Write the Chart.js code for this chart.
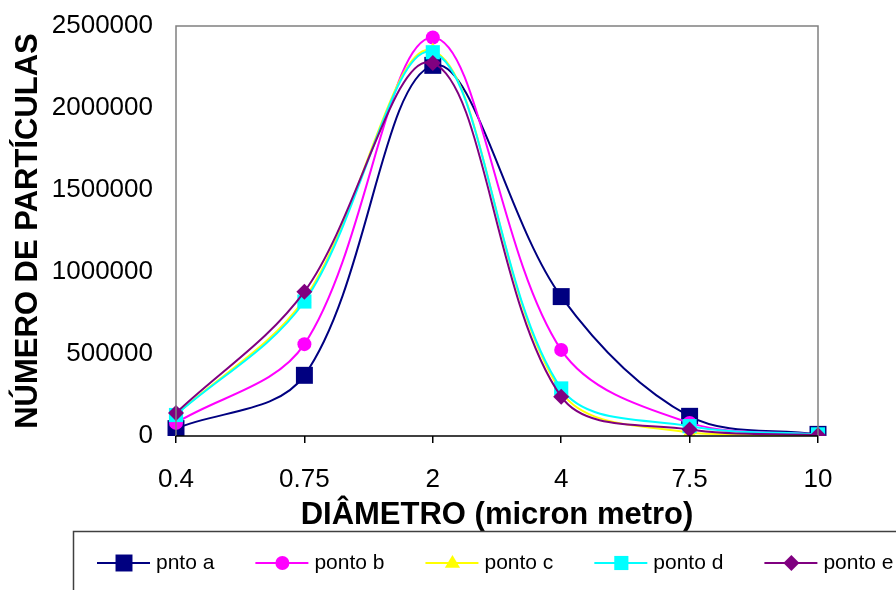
<!DOCTYPE html>
<html>
<head>
<meta charset="utf-8">
<script src="https://cdn.jsdelivr.net/npm/chart.js@4"></script>
<style>
  html, body { margin: 0; padding: 0; background: #fff; }
  #wrap { width: 896px; height: 590px; position: relative; }
</style>
</head>
<body>
<div id="wrap"><canvas id="particlesChart"></canvas></div>
<script>
// Chart data
const diameters = ["0.4", "0.75", "2", "4", "7.5", "10"];
const yTicks = [0, 500000, 1000000, 1500000, 2000000, 2500000];

const pntoA = [45000, 370000, 2260000, 850000, 120000, 10000];
const pontoB = [80000, 560000, 2430000, 525000, 80000, 8000];
const pontoC = [130000, 835000, 2350000, 270000, 20000, 5000];
const pontoD = [128000, 820000, 2340000, 290000, 60000, 10000];
const pontoE = [140000, 880000, 2275000, 240000, 40000, 5000];

const FONT = "'Liberation Sans', Arial, sans-serif";

function series(label, data, color, style, radius, order) {
  return {
    label: label,
    data: data,
    borderColor: color,
    backgroundColor: color,
    pointBackgroundColor: color,
    pointBorderColor: color,
    pointBorderWidth: 0,
    pointStyle: style,
    pointRadius: radius,
    pointHoverRadius: radius,
    borderWidth: 2,
    tension: 0.35,
    fill: false,
    order: order,
  };
}

const datasets = [
  series("pnto a", pntoA, "#000080", "rect", 12, 5),
  series("ponto b", pontoB, "#ff00ff", "circle", 7, 4),
  series("ponto c", pontoC, "#ffff00", "triangle", 8, 3),
  series("ponto d", pontoD, "#00ffff", "rect", 10, 2),
  series("ponto e", pontoE, "#800080", "rectRot", 8, 1),
];

// plot frame + bottom legend box
const framePlugin = {
  id: "frame",
  afterDraw(chart) {
    const ctx = chart.ctx;
    const a = chart.chartArea;
    ctx.save();
    ctx.strokeStyle = "#808080";
    ctx.lineWidth = 1.5;
    ctx.beginPath();
    ctx.moveTo(a.left, a.bottom);
    ctx.lineTo(a.left, a.top);
    ctx.lineTo(a.right, a.top);
    ctx.lineTo(a.right, a.bottom);
    ctx.stroke();
    ctx.strokeStyle = "#000";
    ctx.beginPath();
    ctx.moveTo(a.left, a.bottom);
    ctx.lineTo(a.right, a.bottom);
    ctx.stroke();

    // legend
    ctx.strokeStyle = "#404040";
    ctx.lineWidth = 1.5;
    ctx.strokeRect(73.5, 531.5, 900, 100);
    ctx.font = "21px " + FONT;
    ctx.textBaseline = "middle";
    ctx.fillStyle = "#000";
    let x = 97;
    const y = 563;
    chart.data.datasets.forEach((ds) => {
      ctx.strokeStyle = ds.borderColor;
      ctx.lineWidth = 2;
      ctx.beginPath();
      ctx.moveTo(x, y);
      ctx.lineTo(x + 53, y);
      ctx.stroke();
      const cx = x + 27;
      ctx.fillStyle = ds.borderColor;
      ctx.beginPath();
      if (ds.pointStyle === "rect") {
        const s = ds.pointRadius * Math.SQRT1_2;
        ctx.rect(cx - s, y - s, 2 * s, 2 * s);
      } else if (ds.pointStyle === "circle") {
        ctx.arc(cx, y, ds.pointRadius, 0, Math.PI * 2);
      } else if (ds.pointStyle === "triangle") {
        const r = ds.pointRadius;
        ctx.moveTo(cx, y - r);
        ctx.lineTo(cx + r * 0.95, y + r * 0.6);
        ctx.lineTo(cx - r * 0.95, y + r * 0.6);
        ctx.closePath();
      } else {
        const r = ds.pointRadius;
        ctx.moveTo(cx, y - r);
        ctx.lineTo(cx + r, y);
        ctx.lineTo(cx, y + r);
        ctx.lineTo(cx - r, y);
        ctx.closePath();
      }
      ctx.fill();
      ctx.fillStyle = "#000";
      ctx.fillText(ds.label, x + 59, y);
      x += 59 + ctx.measureText(ds.label).width + 41;
    });
    ctx.restore();
  },
};

const ctx = document.getElementById("particlesChart").getContext("2d");
const chart = new Chart(ctx, {
  type: "line",
  data: { labels: diameters, datasets: datasets },
  plugins: [framePlugin],
  options: {
    responsive: true,
    maintainAspectRatio: false,
    animation: false,
    layout: { padding: { left: 0, right: 78, top: 26, bottom: 54 } },
    plugins: {
      legend: { display: false },
      tooltip: { enabled: false },
    },
    scales: {
      x: {
        offset: false,
        afterFit: (scale) => {
          scale.height = 100;
          scale.paddingLeft = 0;
          scale.paddingRight = 0;
        },
        grid: { drawOnChartArea: false, drawTicks: true, tickLength: 7, color: "#000", lineWidth: 1.5 },
        border: { display: false },
        ticks: { color: "#000", padding: 21, maxRotation: 0, font: { family: FONT, size: 26 } },
        title: {
          display: true,
          text: "DIÂMETRO (micron metro)",
          color: "#000",
          padding: { top: 0, bottom: 2 },
          font: { family: FONT, size: 31, weight: "bold" },
        },
      },
      y: {
        min: 0,
        max: 2500000,
        afterFit: (scale) => {
          scale.width = 176;
          scale.paddingTop = 0;
          scale.paddingBottom = 0;
        },
        afterBuildTicks: (scale) => { scale.ticks = yTicks.map((v) => ({ value: v })); },
        grid: { display: false, drawTicks: false },
        border: { display: false },
        ticks: {
          color: "#000",
          padding: 23,
          font: { family: FONT, size: 26 },
          callback: (v) => String(v),
        },
        title: {
          display: true,
          text: "NÚMERO DE PARTÍCULAS",
          color: "#000",
          padding: { top: 10, bottom: 0 },
          font: { family: FONT, size: 31, weight: "bold" },
        },
      },
    },
  },
});
</script>
</body>
</html>
